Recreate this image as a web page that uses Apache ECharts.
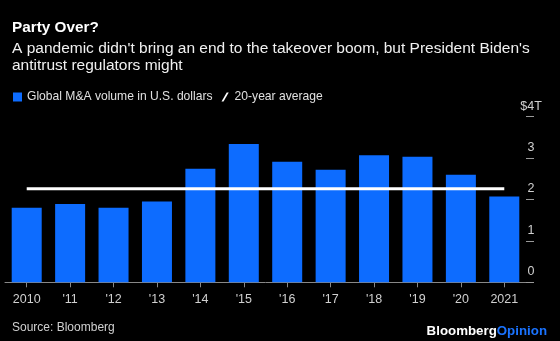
<!DOCTYPE html>
<html><head><meta charset="utf-8">
<style>html,body{margin:0;padding:0;background:#000;}#c{width:560px;height:341px;}</style>
<script src="https://cdn.jsdelivr.net/npm/echarts@6/dist/echarts.min.js"></script>
</head><body><div id="c"></div>
<script>
const categories = ['2010', "'11", "'12", "'13", "'14", "'15", "'16", "'17", "'18", "'19", "'20", '2021'];
const maVolume = [1.80, 1.89, 1.80, 1.95, 2.74, 3.34, 2.91, 2.72, 3.07, 3.03, 2.60, 2.07];
const avg20 = [2.26, 2.26, 2.26, 2.26, 2.26, 2.26, 2.26, 2.26, 2.26, 2.26, 2.26, 2.26];
const yTickLabels = ['0', '1', '2', '3', '$4T'];

const FONT = '"Liberation Sans", Arial, Helvetica, sans-serif';
const chart = echarts.init(document.getElementById('c'), null, {renderer: 'canvas'});
chart.setOption({
  backgroundColor: '#000',
  animation: false,
  textStyle: {fontFamily: FONT},
  title: [
    {text: 'Party Over?', left: 12, top: 20, padding: 0,
     textStyle: {color: '#fff', fontSize: 15.3, fontWeight: 'bold', fontFamily: FONT}},
    {text: "A pandemic didn't bring an end to the takeover boom, but President Biden's\nantitrust regulators might",
     left: 12, top: 40, padding: 0,
     textStyle: {color: '#f0f0f0', fontSize: 15.5, fontWeight: 'normal', lineHeight: 17, fontFamily: FONT}}
  ],
  legend: {
    left: 13, top: 91, padding: 0, itemWidth: 9, itemHeight: 9, itemGap: 9,
    textStyle: {color: '#e0e0e0', fontSize: 12.1, fontFamily: FONT},
    data: [
      {name: 'Global M&A volume in U.S. dollars', icon: 'rect'},
      {name: '20-year average', icon: 'path://M0,10 L2.2,10 L8,0 L5.8,0 Z', itemStyle: {color: '#fff'}}
    ]
  },
  grid: {left: 5, right: 34, top: 116.7, bottom: 58.7},
  xAxis: {
    type: 'category', data: categories,
    axisLine: {lineStyle: {color: '#888', width: 1}},
    axisTick: {show: true, alignWithLabel: true, length: 5, lineStyle: {color: '#888'}},
    axisLabel: {color: '#d0d0d0', fontSize: 12.5, margin: 11, fontFamily: FONT}
  },
  yAxis: {
    type: 'value', position: 'right', min: 0, max: 4, interval: 1,
    splitLine: {show: false},
    axisLine: {show: false},
    axisTick: {show: true, length: 8, lineStyle: {color: '#999'}},
    axisLabel: {color: '#d0d0d0', fontSize: 12.5, margin: 5, align: 'center', verticalAlign: 'bottom',
      padding: [0, 0, 4, 0], fontFamily: FONT,
      formatter: function (v) { return yTickLabels[Math.round(v)]; }}
  },
  series: [
    {name: 'Global M&A volume in U.S. dollars', type: 'bar', data: maVolume, barWidth: 30,
     itemStyle: {color: '#0d6cff'}},
    {name: '20-year average', type: 'line', data: avg20, symbol: 'none',
     lineStyle: {color: '#fff', width: 3}, itemStyle: {color: '#fff'}, z: 5}
  ],
  graphic: [
    {type: 'text', left: 12, top: 322, style: {text: 'Source: Bloomberg', fill: '#d0d0d0', font: '12px ' + FONT}},
    {type: 'text', right: 13, top: 325, style: {
      text: '{a|Bloomberg}{b|Opinion}',
      rich: {a: {fill: '#fff', fontSize: 13.3, fontWeight: 'bold', fontFamily: FONT},
             b: {fill: '#1a73ff', fontSize: 13.3, fontWeight: 'bold', fontFamily: FONT}}}}
  ]
});
</script></body></html>
